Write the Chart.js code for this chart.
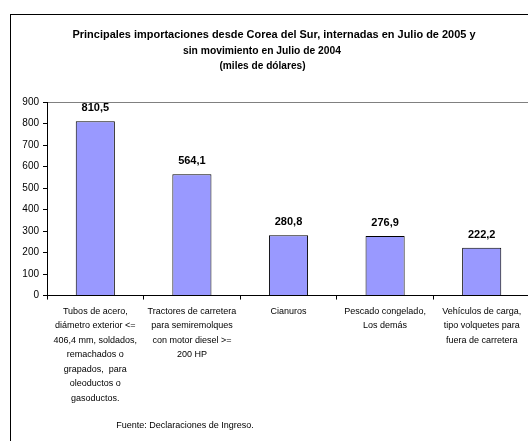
<!DOCTYPE html>
<html>
<head>
<meta charset="utf-8">
<script src="https://cdn.jsdelivr.net/npm/chart.js@4/dist/chart.umd.min.js"></script>
<style>
html,body{margin:0;padding:0;background:#fff;overflow:hidden;width:528px;height:441px;}
canvas{display:block;}
</style>
</head>
<body>
<canvas id="c" width="540" height="450"></canvas>
<script>
const categories = [
  ["Tubos de acero,", "diámetro exterior <=", "406,4 mm, soldados,", "remachados o", "grapados,  para", "oleoductos o", "gasoductos."],
  ["Tractores de carretera", "para semiremolques", "con motor diesel >=", "200 HP"],
  ["Cianuros"],
  ["Pescado congelado,", "Los demás"],
  ["Vehículos de carga,", "tipo volquetes para", "fuera de carretera"]
];
const values = [810.5, 564.1, 280.8, 276.9, 222.2];
const valueLabels = ["810,5", "564,1", "280,8", "276,9", "222,2"];
const yMin = 0, yMax = 900, yStep = 100;
const titleLines = [
  "Principales importaciones desde Corea del Sur, internadas en Julio de 2005 y",
  "sin movimiento en Julio de 2004",
  "(miles de dólares)"
];
const footnote = "Fuente: Declaraciones de Ingreso.";

const FONT = "'Liberation Sans', Arial, sans-serif";

const deco = {
  id: 'deco',
  beforeDraw(chart) {
    const ctx = chart.ctx;
    ctx.save();
    ctx.fillStyle = '#fff';
    ctx.fillRect(0, 0, chart.width, chart.height);
    ctx.strokeStyle = '#000';
    ctx.lineWidth = 1;
    ctx.strokeRect(10.5, 14.5, 700, 700);
    ctx.restore();
  },
  afterDraw(chart) {
    const ctx = chart.ctx;
    ctx.save();
    ctx.fillStyle = '#000';
    ctx.textAlign = 'center';
    ctx.textBaseline = 'middle';
    ctx.font = 'bold 11.5px ' + FONT;
    const tPos = [[274, 35, 403], [262, 51, 158], [262.5, 66, 86]];
    titleLines.forEach((t, i) => {
      ctx.fillText(t, tPos[i][0], tPos[i][1], tPos[i][2]);
    });
    ctx.font = 'bold 11px ' + FONT;
    ctx.textBaseline = 'alphabetic';
    const meta = chart.getDatasetMeta(0);
    meta.data.forEach((bar, i) => {
      ctx.fillText(valueLabels[i], bar.x, bar.y - 10);
    });
    ctx.font = '9px ' + FONT;
    ctx.textBaseline = 'middle';
    ctx.fillText(footnote, 185, 426);
    ctx.restore();
  }
};

new Chart(document.getElementById('c'), {
  type: 'bar',
  data: {
    labels: categories,
    datasets: [{
      data: values,
      backgroundColor: '#9999FF',
      borderColor: '#000',
      borderWidth: 1,
      barPercentage: 0.405,
      categoryPercentage: 1
    }]
  },
  options: {
    responsive: false,
    devicePixelRatio: 1,
    animation: false,
    layout: { padding: { top: 102, right: 10, bottom: 40, left: 0 } },
    plugins: { legend: { display: false }, tooltip: { enabled: false }, title: { display: false } },
    scales: {
      x: {
        grid: { drawOnChartArea: false, tickLength: 4, color: '#000', tickColor: '#000', offset: true },
        border: { color: '#000', width: 1 },
        ticks: {
          autoSkip: false, maxRotation: 0, minRotation: 0,
          color: '#000', padding: 4.5,
          font: { family: FONT, size: 9, lineHeight: 1.61 }
        }
      },
      y: {
        min: yMin, max: yMax,
        afterFit(scale) { scale.width = 47; },
        grid: {
          tickLength: 4,
          tickColor: '#000',
          color: (c) => (c.tick && c.tick.value === yMax) ? '#808080' : 'rgba(0,0,0,0)'
        },
        border: { color: '#000', width: 1 },
        ticks: {
          stepSize: yStep, color: '#000', padding: 4,
          font: { family: FONT, size: 10 }
        }
      }
    }
  },
  plugins: [deco]
});
</script>
</body>
</html>
